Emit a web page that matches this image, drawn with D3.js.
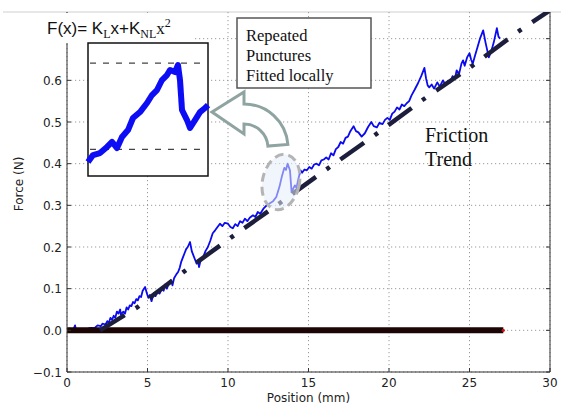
<!DOCTYPE html>
<html><head><meta charset="utf-8">
<script src="https://cdn.jsdelivr.net/npm/d3@7"></script>
<style>html,body{margin:0;padding:0;background:#fff;}svg{display:block;}</style>
</head><body>
<svg id="chart" width="561" height="406"></svg>
<script>
// ---------- data ----------
const xTicks = [0, 5, 10, 15, 20, 25, 30];
const yTicks = [-0.1, 0, 0.1, 0.2, 0.3, 0.4, 0.5, 0.6, 0.7];
const yTickLabels = [-0.1, 0, 0.1, 0.2, 0.3, 0.4, 0.5, 0.6]; // 0.7 hidden under the formula

const forcePos = [0,0.2,0.4,0.5,0.55,0.8,1.0,1.3,1.5,1.7,1.9,2.1,2.2,2.4,2.5,2.6,2.7,2.8,2.9,3.0,3.1,3.2,3.3,3.35,3.5,3.6,3.7,3.8,3.9,4.0,4.1,4.2,4.3,4.4,4.5,4.6,4.7,4.85,4.95,5.05,5.15,5.25,5.4,5.5,5.6,5.75,5.9,6.0,6.1,6.2,6.35,6.45,6.55,6.65,6.8,6.9,7.0,7.1,7.2,7.3,7.4,7.5,7.64,7.75,7.85,7.95,8.05,8.15,8.2,8.3,8.45,8.6,8.75,8.9,9.05,9.2,9.35,9.5,9.65,9.8,10.0,10.15,10.3,10.45,10.6,10.75,10.9,11.05,11.2,11.35,11.55,11.7,11.85,12.0,12.2,12.4,12.6,12.8,13.0,13.2,13.35,13.5,13.6,13.7,13.85,13.95,14.05,14.15,14.25,14.35,14.5,14.6,14.75,14.9,15.05,15.2,15.35,15.5,15.65,15.8,15.95,16.1,16.25,16.4,16.55,16.7,16.85,17.0,17.15,17.3,17.45,17.6,17.8,17.95,18.1,18.3,18.5,18.7,18.9,19.05,19.25,19.4,19.6,19.75,19.9,20.05,20.2,20.35,20.5,20.65,20.8,20.95,21.1,21.25,21.4,21.6,21.8,22.0,22.2,22.3,22.4,22.5,22.65,22.8,23.0,23.15,23.35,23.5,23.65,23.8,23.95,24.1,24.2,24.35,24.5,24.6,24.7,24.85,25.0,25.1,25.2,25.35,25.5,25.65,25.85,26.0,26.2,26.35,26.5,26.7,26.8,26.9];
const forceN = [0.003,0.004,0.002,0.012,0.003,0.002,0.003,0.004,0.006,0.005,0.012,0.010,0.016,0.014,0.022,0.018,0.030,0.025,0.035,0.030,0.045,0.040,0.050,0.038,0.045,0.040,0.055,0.050,0.060,0.058,0.068,0.065,0.075,0.072,0.082,0.080,0.095,0.104,0.090,0.078,0.085,0.070,0.090,0.082,0.095,0.088,0.100,0.095,0.110,0.100,0.115,0.120,0.108,0.125,0.135,0.140,0.150,0.165,0.175,0.185,0.195,0.200,0.212,0.190,0.180,0.170,0.160,0.165,0.152,0.168,0.175,0.190,0.200,0.215,0.233,0.240,0.248,0.256,0.250,0.258,0.256,0.248,0.245,0.255,0.250,0.262,0.258,0.268,0.262,0.270,0.276,0.272,0.284,0.280,0.292,0.300,0.305,0.310,0.320,0.345,0.370,0.390,0.385,0.400,0.384,0.331,0.340,0.348,0.342,0.360,0.384,0.378,0.386,0.384,0.392,0.388,0.398,0.400,0.396,0.408,0.410,0.415,0.410,0.425,0.420,0.435,0.440,0.452,0.448,0.462,0.465,0.478,0.490,0.478,0.475,0.465,0.473,0.488,0.500,0.490,0.487,0.498,0.495,0.505,0.510,0.505,0.520,0.525,0.535,0.530,0.542,0.538,0.545,0.550,0.564,0.578,0.593,0.610,0.630,0.605,0.588,0.583,0.590,0.580,0.595,0.585,0.600,0.590,0.598,0.595,0.610,0.605,0.624,0.615,0.640,0.648,0.635,0.655,0.665,0.650,0.640,0.660,0.680,0.700,0.720,0.690,0.655,0.670,0.690,0.725,0.705,0.700];

const trendPos = [2.05, 4.35, 7.2, 10.2, 13.2, 16.1, 19.1, 22.05, 25.0, 27.95, 30];
const trendN   = [0.0, 0.055, 0.139, 0.223, 0.305, 0.386, 0.468, 0.552, 0.63, 0.715, 0.768];

const zeroPos = [0, 27.1];
const zeroN = [0, 0];

// inset: local puncture (relative position in mm, force in N)
const insetPos = [0,0.05,0.12,0.19,0.24,0.29,0.34,0.40,0.45,0.52,0.59,0.64,0.69,0.74,0.79,0.82,0.87,0.90,0.92,0.94,0.99,1.02,1.07,1.12,1.17,1.20];
const insetN   = [0.3032,0.3097,0.3116,0.3173,0.3220,0.3163,0.3267,0.3332,0.3445,0.3501,0.3586,0.3661,0.3708,0.3802,0.3849,0.3896,0.3877,0.3943,0.3802,0.3520,0.3426,0.3351,0.3426,0.3501,0.3539,0.3567];
const insetLevels = [0.396, 0.315];

const punctureCentre = [13.29, 0.356];

// ---------- drawing ----------
const svg = d3.select("#chart");
const x = d3.scaleLinear().domain([0, 30]).range([67, 550]);
const y = d3.scaleLinear().domain([-0.1, 0.764]).range([372, 12]);
const [x0, x1] = x.range(), [yb, yt] = y.range();

svg.append("defs").append("clipPath").attr("id","plotclip")
  .append("rect").attr("x",x0).attr("y",yt).attr("width",x1-x0).attr("height",yb-yt);
const blur = svg.select("defs").append("filter").attr("id","blur");
blur.append("feGaussianBlur").attr("stdDeviation",0.7);

// top faint rule
svg.append("line").attr("x1",3).attr("x2",561).attr("y1",12).attr("y2",12)
  .attr("stroke","#cfcfcf").attr("stroke-width",1);

// grid
const grid = svg.append("g").attr("stroke","#9a9a9a").attr("stroke-width",1).attr("stroke-dasharray","1.2,2.8");
grid.selectAll(".gx").data(xTicks).join("line")
  .attr("x1",d=>x(d)).attr("x2",d=>x(d)).attr("y1",yt).attr("y2",yb);
grid.selectAll(".gy").data(yTicks).join("line")
  .attr("x1",x0).attr("x2",x1).attr("y1",d=>y(d)).attr("y2",d=>y(d));

const plot = svg.append("g").attr("clip-path","url(#plotclip)");
const line = d3.line().x(d=>x(d[0])).y(d=>y(d[1]));

// blue force trace
plot.append("path").datum(forcePos.map((p,i)=>[p,forceN[i]]))
  .attr("d",line).attr("fill","none").attr("stroke","#0a0af0")
  .attr("stroke-width",1.8).attr("stroke-linejoin","round");

// thick zero line
plot.append("path").datum(zeroPos.map((p,i)=>[p,zeroN[i]]))
  .attr("d",line).attr("fill","none").attr("stroke","#1c0505").attr("stroke-width",6);
plot.append("circle").attr("cx",x(zeroPos[1])).attr("cy",y(0)).attr("r",1.6).attr("fill","#d01010");

// trend dash-dot
plot.append("path").datum(trendPos.map((p,i)=>[p,trendN[i]]))
  .attr("d",line).attr("fill","none").attr("stroke","#1c1e3c")
  .attr("stroke-width",4.5).attr("stroke-dasharray","29,13,4,13");

// puncture ellipse
const ec = [x(punctureCentre[0]), y(punctureCentre[1])];
svg.append("ellipse").attr("cx",ec[0]).attr("cy",ec[1]).attr("rx",18.5).attr("ry",28)
  .attr("transform",`rotate(12,${ec[0]},${ec[1]})`)
  .attr("fill","rgba(230,238,250,0.55)").attr("stroke","#b4b4b4")
  .attr("stroke-width",3).attr("stroke-dasharray","9,5");

// spines
const sp = svg.append("g").attr("stroke","#333").attr("stroke-width",1).attr("fill","none");
sp.append("line").attr("x1",x0).attr("x2",x0).attr("y1",yt).attr("y2",yb);
sp.append("line").attr("x1",x1).attr("x2",x1).attr("y1",yt).attr("y2",yb);
sp.append("line").attr("x1",x0).attr("x2",x1).attr("y1",yb).attr("y2",yb);
// ticks inward
const tk = svg.append("g").attr("stroke","#333").attr("stroke-width",1);
tk.selectAll(".tb").data(xTicks).join("line").attr("x1",d=>x(d)).attr("x2",d=>x(d)).attr("y1",yb).attr("y2",yb-4);
tk.selectAll(".tl").data(yTicks).join("line").attr("x1",x0).attr("x2",x0+4).attr("y1",d=>y(d)).attr("y2",d=>y(d));
tk.selectAll(".tr").data(yTicks).join("line").attr("x1",x1).attr("x2",x1-4).attr("y1",d=>y(d)).attr("y2",d=>y(d));

// tick labels
const lab = svg.append("g").attr("font-family","'DejaVu Sans', sans-serif").attr("font-size",12).attr("fill","#222");
lab.selectAll(".xl").data(xTicks).join("text").attr("x",d=>x(d)).attr("y",yb+15)
  .attr("text-anchor","middle").text(d=>d3.format("d")(d));
lab.selectAll(".yl").data(yTickLabels).join("text").attr("x",x0-5).attr("y",d=>y(d)+4.5)
  .attr("text-anchor","end").text(d=>d3.format(".1f")(d));
lab.append("text").attr("x",(x0+x1)/2).attr("y",402).attr("text-anchor","middle").text("Position (mm)");
lab.append("text").attr("transform",`translate(23,${(yb+yt)/2 - 8}) rotate(-90)`).attr("text-anchor","middle").text("Force (N)");

// formula with white background
svg.append("rect").attr("x",35).attr("y",13).attr("width",160).attr("height",30).attr("fill","#fff");
const f = svg.append("text").attr("x",47).attr("y",34).attr("font-size",17).attr("fill","#111")
  .attr("font-family","'Liberation Sans', Arial, sans-serif");
f.append("tspan").text("F(x)= K");
f.append("tspan").attr("font-family","'Liberation Serif', serif").attr("font-size",12).attr("dy",4).text("L");
f.append("tspan").attr("dy",-4).text("x+K");
f.append("tspan").attr("font-family","'Liberation Serif', serif").attr("font-size",12).attr("dy",4).text("NL");
f.append("tspan").attr("font-family","'Liberation Serif', serif").attr("dy",-4).text("x");
f.append("tspan").attr("font-family","'Liberation Serif', serif").attr("font-size",12).attr("dy",-7).text("2");

// inset
const ix = d3.scaleLinear().domain([0, 1.2]).range([88, 208]);
const iy = d3.scaleLinear().domain([0.29, 0.415]).range([176, 43]);
svg.append("rect").attr("x",88).attr("y",43).attr("width",120).attr("height",133)
  .attr("fill","#fff").attr("stroke","#111").attr("stroke-width",1.5);
svg.append("g").selectAll("line").data(insetLevels).join("line")
  .attr("x1",90).attr("x2",206).attr("y1",d=>iy(d)).attr("y2",d=>iy(d))
  .attr("stroke","#444").attr("stroke-width",1.2).attr("stroke-dasharray","6,7");
svg.append("path").datum(insetPos.map((p,i)=>[p,insetN[i]]))
  .attr("d",d3.line().x(d=>ix(d[0])).y(d=>iy(d[1])))
  .attr("fill","none").attr("stroke","#0a0af5").attr("stroke-width",6)
  .attr("stroke-linejoin","round").attr("filter","url(#blur)");

// text box
svg.append("rect").attr("x",237).attr("y",18).attr("width",134).attr("height",70)
  .attr("fill","#fff").attr("stroke","#555").attr("stroke-width",1.5);
const tb = svg.append("g").attr("font-family","'Liberation Serif', 'Times New Roman', serif").attr("font-size",16.5).attr("fill","#111");
["Repeated","Punctures","Fitted locally"].forEach((t,i)=>
  tb.append("text").attr("x",246).attr("y",41+i*20).text(t));

// curved arrow
const ac = [244, 148], rO = 44, rI = 24, a0 = -Math.PI/2, a1 = -0.08;
const p = d3.path();
const tip = [212, 112];
p.moveTo(tip[0], tip[1]);
p.lineTo(ac[0], ac[1]-rO-12);
p.lineTo(ac[0], ac[1]-rO);
p.arc(ac[0], ac[1], rO, a0, a1, false);
p.lineTo(ac[0]+rI*Math.cos(a1), ac[1]+rI*Math.sin(a1));
p.arc(ac[0], ac[1], rI, a1, a0, true);
p.lineTo(ac[0], ac[1]-rI+10);
p.closePath();
svg.append("path").attr("d",p.toString()).attr("fill","#fff")
  .attr("stroke","#8fa4a1").attr("stroke-width",3).attr("stroke-linejoin","miter");

// Friction Trend
const ft = svg.append("g").attr("font-family","'Liberation Serif', 'Times New Roman', serif").attr("font-size",20).attr("fill","#111");
ft.append("text").attr("x",425).attr("y",142).text("Friction");
ft.append("text").attr("x",425).attr("y",166).text("Trend");
</script>
</body></html>
